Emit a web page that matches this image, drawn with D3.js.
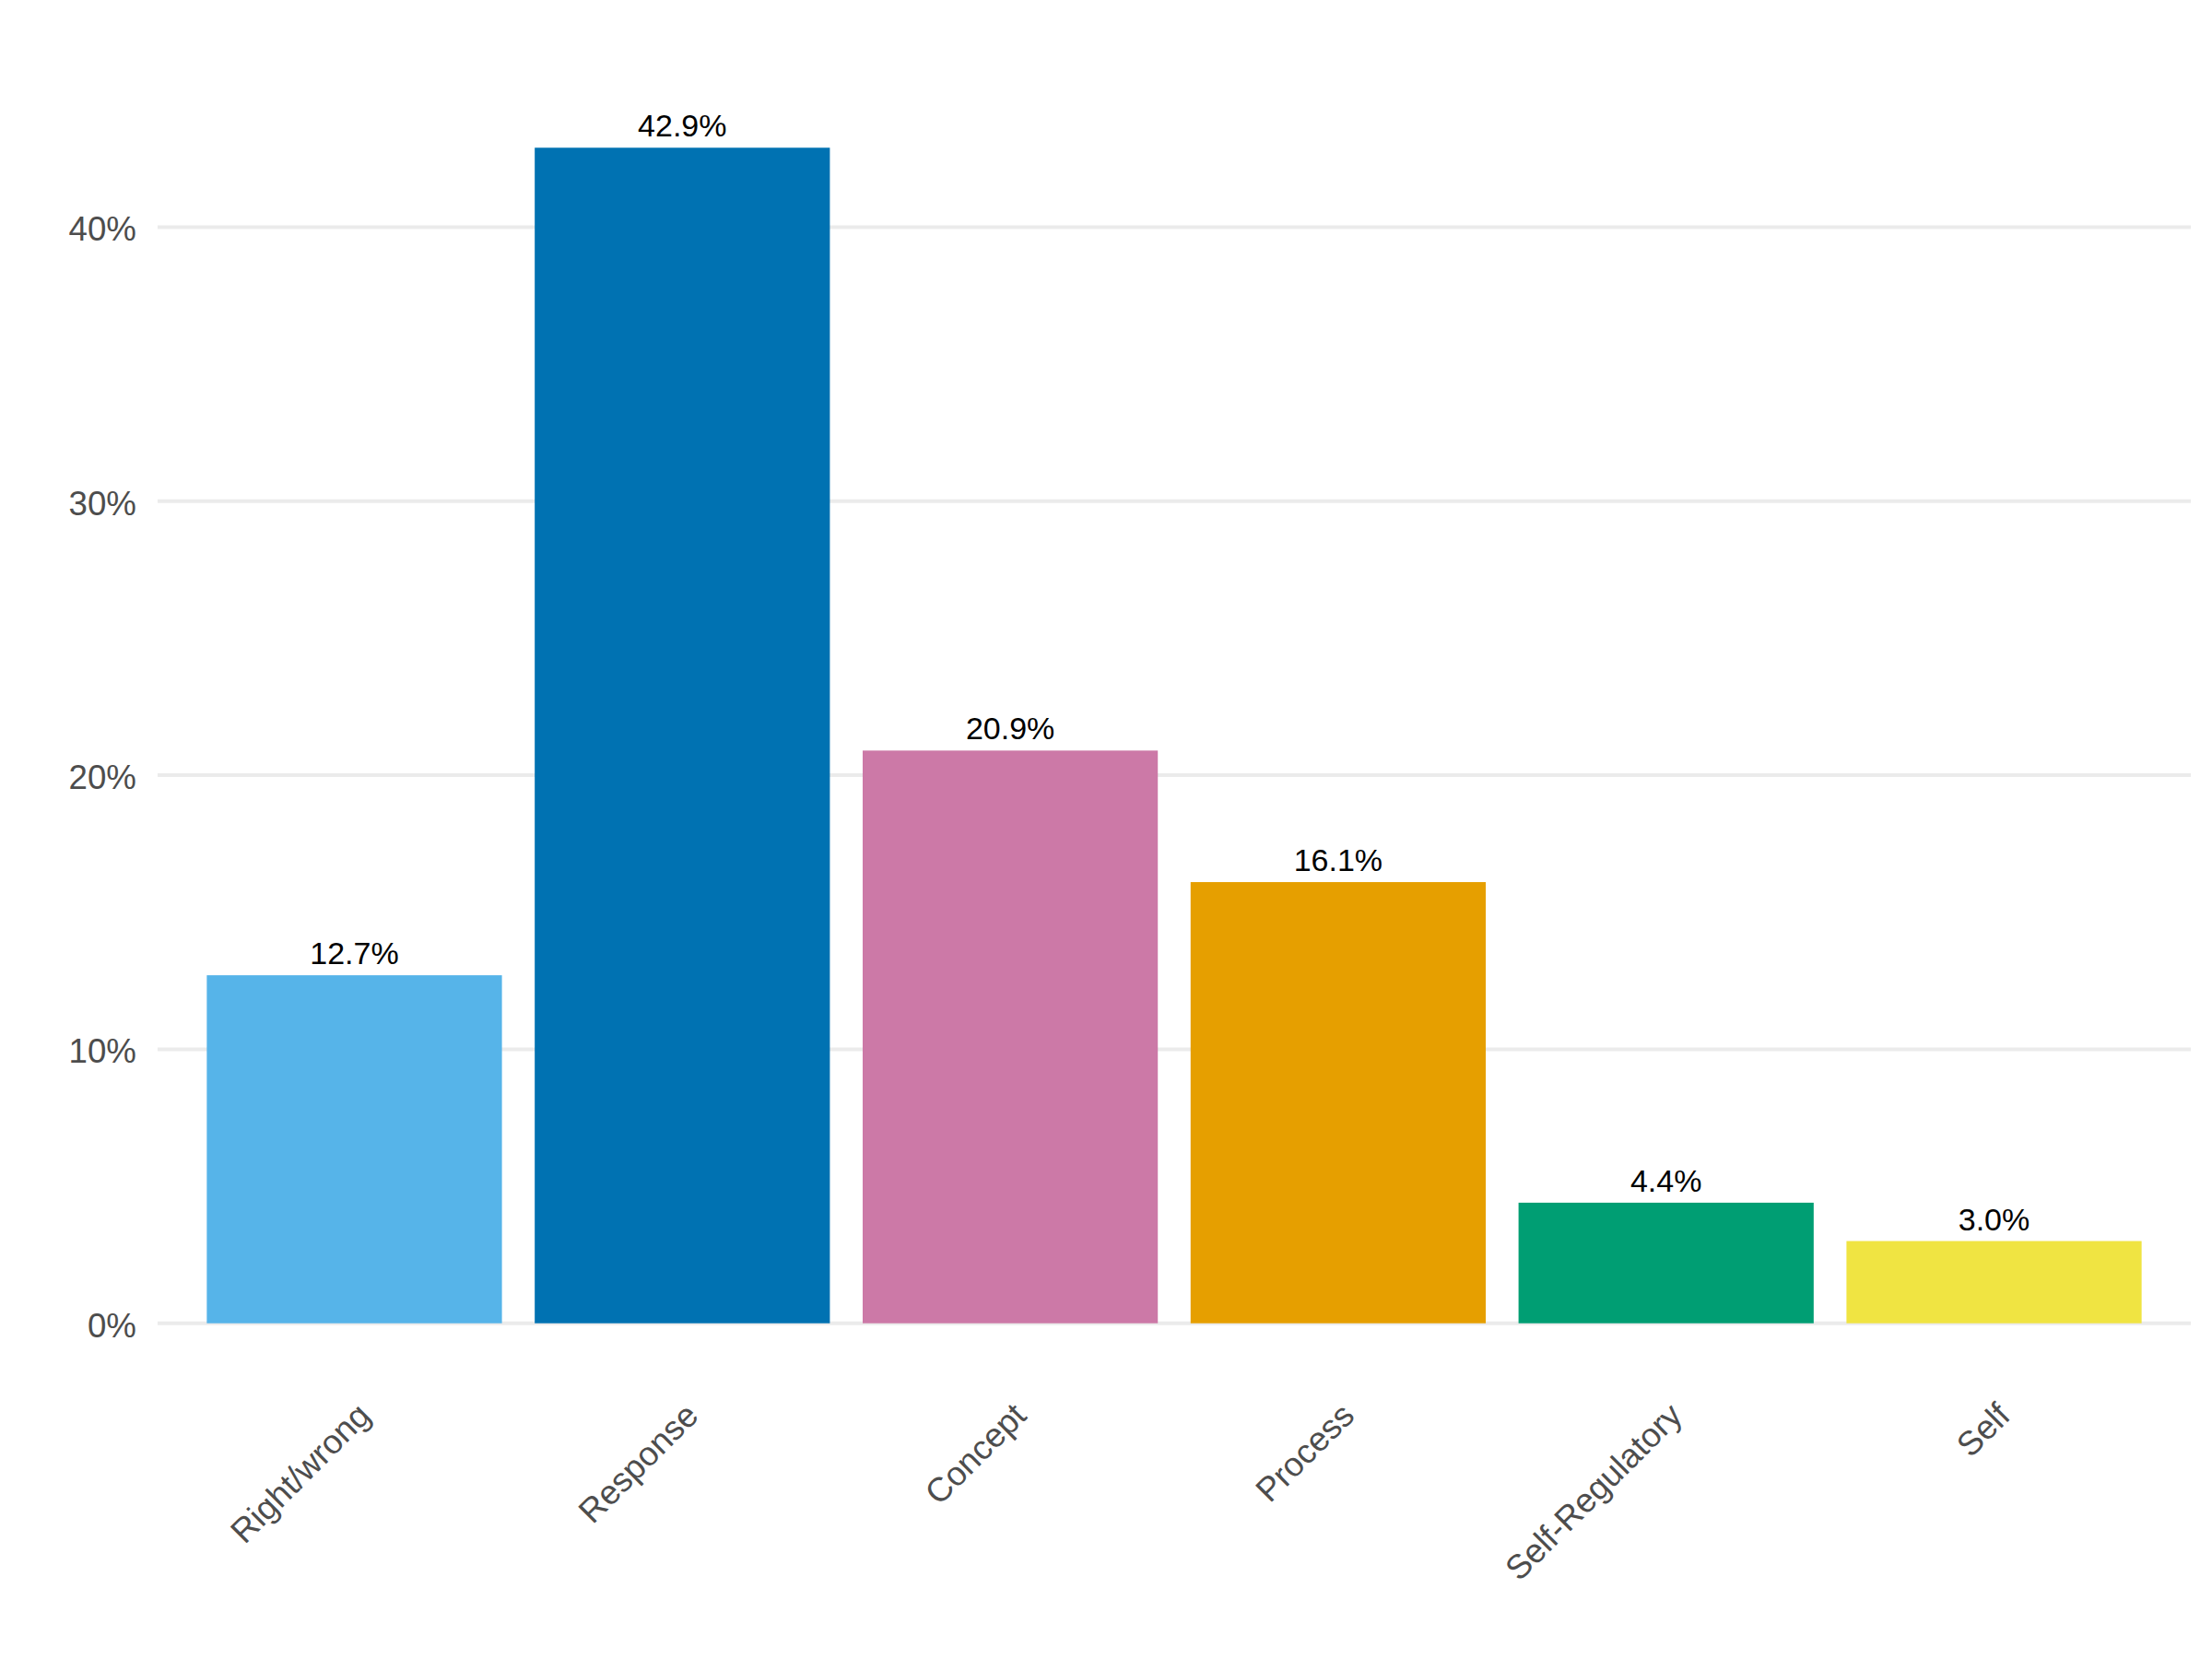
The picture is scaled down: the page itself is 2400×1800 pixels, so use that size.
<!DOCTYPE html>
<html>
<head>
<meta charset="utf-8">
<script src="https://cdn.jsdelivr.net/npm/d3@7"></script>
<style>
  html, body { margin: 0; padding: 0; background: #ffffff; }
  svg { display: block; }
  text { font-family: "Liberation Sans", Arial, Helvetica, sans-serif; }
</style>
</head>
<body>
<script>
const categories = ["Right/wrong", "Response", "Concept", "Process", "Self-Regulatory", "Self"];
const values = [12.7, 42.9, 20.9, 16.1, 4.4, 3.0];
const colors = ["#56B4E9", "#0072B2", "#CC79A7", "#E69F00", "#009E73", "#F0E442"];
const yTicks = [0, 10, 20, 30, 40];

const W = 2400, H = 1800;
const panel = { left: 171, right: 2377, top: 96.5, bottom: 1499.5 };

const svg = d3.select("body").append("svg").attr("width", W).attr("height", H);
svg.append("rect").attr("width", W).attr("height", H).attr("fill", "#ffffff");

const maxV = d3.max(values);
const x = d3.scaleBand().domain(categories).range([panel.left, panel.right])
  .paddingInner(0.1).paddingOuter(0.15);
const y = d3.scaleLinear().domain([-0.05 * maxV, maxV * 1.05]).range([panel.bottom, panel.top]);

// gridlines
svg.append("g").selectAll("line").data(yTicks).join("line")
  .attr("x1", panel.left).attr("x2", panel.right)
  .attr("y1", d => y(d)).attr("y2", d => y(d))
  .attr("stroke", "#EBEBEB").attr("stroke-width", 4);

// y axis labels
const yAxis = d3.axisLeft(y).tickValues(yTicks).tickFormat(d => d + "%").tickSize(0).tickPadding(0);
const yg = svg.append("g").attr("transform", `translate(${panel.left - 23},0)`).call(yAxis);
yg.select(".domain").remove();
yg.selectAll("text").attr("font-size", 36.7).attr("fill", "#4D4D4D")
  .attr("dy", "0.39em").attr("font-family", '"Liberation Sans", Arial, sans-serif');

// bars
svg.append("g").selectAll("rect").data(values).join("rect")
  .attr("x", (d, i) => x(categories[i]))
  .attr("width", x.bandwidth())
  .attr("y", d => y(d))
  .attr("height", d => y(0) - y(d))
  .attr("fill", (d, i) => colors[i]);

// value labels
svg.append("g").selectAll("text").data(values).join("text")
  .attr("x", (d, i) => x(categories[i]) + x.bandwidth() / 2)
  .attr("y", d => y(d) - 12)
  .attr("text-anchor", "middle")
  .attr("font-size", 34)
  .attr("fill", "#000000")
  .text(d => d.toFixed(1) + "%");

// x axis labels
const xAxis = d3.axisBottom(x).tickSize(0).tickPadding(0);
const xg = svg.append("g").attr("transform", `translate(0,${panel.bottom + 19})`).call(xAxis);
xg.select(".domain").remove();
xg.selectAll("text")
  .attr("font-size", 36.7).attr("fill", "#4D4D4D")
  .attr("font-family", '"Liberation Sans", Arial, sans-serif')
  .attr("text-anchor", "end")
  .attr("y", 0).attr("x", 0)
  .attr("dy", "0.75em")
  .attr("transform", "rotate(-45)");
</script>
</body>
</html>
